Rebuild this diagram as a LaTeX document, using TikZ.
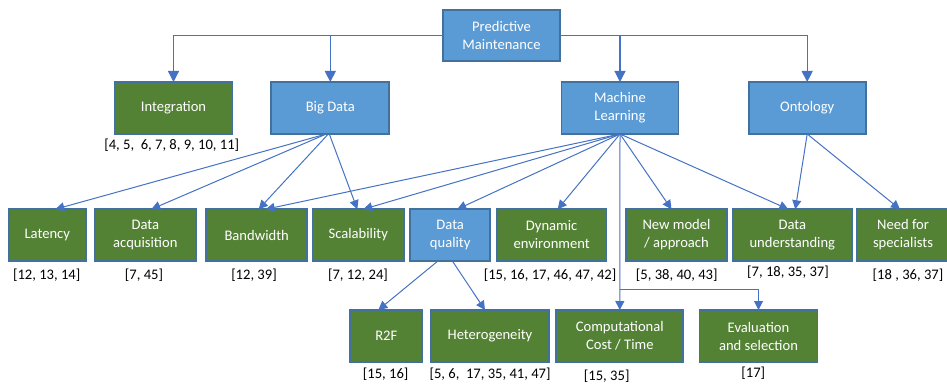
\documentclass[tikz,border=0pt]{standalone}
\usepackage{fontspec}
\setmainfont{Carlito}
\usetikzlibrary{arrows.meta}
\definecolor{boxblue}{HTML}{5B9BD5}
\definecolor{boxgreen}{HTML}{548235}
\definecolor{edgeblue}{HTML}{41719C}
\definecolor{linkblue}{HTML}{4472C4}
\begin{document}
\begin{tikzpicture}[x=1pt,y=-1pt,
  box/.style={draw=edgeblue,line width=1.8pt,text=white,align=center,inner sep=1pt,outer sep=0pt,
    font=\fontsize{14.6}{18}\selectfont},
  topic/.style={box,fill=boxblue},
  issue/.style={box,fill=boxgreen},
  refs/.style={font=\fontsize{14.6}{18}\selectfont,text=black,inner sep=0pt},
  link/.style={draw=linkblue,line width=1pt,-{Triangle[length=9pt,width=9pt]}},
  toplink/.style={draw=linkblue,line width=1.2pt,-{Triangle[length=11pt,width=11pt]}}]
\useasboundingbox (0,0) rectangle (947,385);
\clip (0,0) rectangle (947,385);

% root and first level
\node[topic,minimum width=117pt,minimum height=51pt] (pm) at (501.5,35.7) {Predictive\\Maintenance};
\node[issue,minimum width=118pt,minimum height=52pt] (integ) at (173.5,108) {Integration};
\node[topic,minimum width=118pt,minimum height=52pt] (bd) at (330.3,108) {Big Data};
\node[topic,minimum width=117pt,minimum height=52pt] (ml) at (620,108) {Machine\\Learning};
\node[topic,minimum width=117pt,minimum height=52pt] (onto) at (807.2,108) {Ontology};

% second level
\node[issue,minimum width=77pt,minimum height=51.5pt] (lat) at (47.3,235) {Latency};
\node[issue,minimum width=101pt,minimum height=51.5pt] (acq) at (145.3,235) {Data\\acquisition};
\node[issue,minimum width=101pt,minimum height=51.5pt] (bw) at (256.7,235) {Bandwidth};
\node[issue,minimum width=91.5pt,minimum height=51.5pt] (scal) at (358.3,235) {Scalability};
\node[topic,minimum width=80pt,minimum height=51.5pt] (dq) at (450.2,235) {Data\\quality};
\node[issue,minimum width=109.5pt,minimum height=51.5pt] (dyn) at (551.7,235) {Dynamic\\environment};
\node[issue,minimum width=100.5pt,minimum height=51.5pt] (nm) at (676.5,235) {New model\\/ approach};
\node[issue,minimum width=119pt,minimum height=51.5pt] (du) at (792.3,235) {Data\\understanding};
\node[issue,minimum width=93pt,minimum height=51.5pt] (ns) at (903,235) {Need for\\specialists};

% third level
\node[issue,minimum width=72pt,minimum height=52pt] (r2f) at (386.3,336) {R2F};
\node[issue,minimum width=118pt,minimum height=52pt] (het) at (490,336) {Heterogeneity};
\node[issue,minimum width=127pt,minimum height=52pt] (cc) at (619.8,336) {Computational\\Cost / Time};
\node[issue,minimum width=118pt,minimum height=52pt] (ev) at (758.5,336) {Evaluation\\and selection};

% reference lists
\node[refs] (rinteg) at (171.7,145) {[4, 5,\ \ 6, 7, 8, 9, 10, 11]};
\node[refs] (rlat) at (46.7,275) {[12, 13, 14]};
\node[refs] (racq) at (144,275) {[7, 45]};
\node[refs] (rbw) at (254,275) {[12, 39]};
\node[refs] (rscal) at (358,275) {[7, 12, 24]};
\node[refs] (rdyn) at (550,275) {[15, 16, 17, 46, 47, 42]};
\node[refs] (rnm) at (676.7,275) {[5, 38, 40, 43]};
\node[refs] (rdu) at (788,272.7) {[7, 18, 35, 37]};
\node[refs] (rns) at (908,275) {[18 , 36, 37]};
\node[refs] (rr2f) at (385.7,374) {[15, 16]};
\node[refs] (rhet) at (490,374) {[5, 6,\ \ 17, 35, 41, 47]};
\node[refs] (rcc) at (606.7,376.7) {[15, 35]};
\node[refs] (rev) at (753.3,373.3) {[17]};

% root branches
\draw[toplink] (pm.west) -| (integ.north);
\draw[toplink] (pm.west -| bd.north) -- (bd.north);
\draw[toplink] (pm.east) -| (onto.north);
\draw[toplink] (pm.east -| ml.north) -- (ml.north);

% Big Data
\draw[link] ([xshift=-4pt]bd.south) -- ([xshift=8pt]lat.north);
\draw[link] ([xshift=-4pt]bd.south) -- ([xshift=6pt]acq.north);
\draw[link] ([xshift=-2pt]bd.south) -- ([xshift=2pt]bw.north);
\draw[link] ([xshift=-1pt]bd.south) -- ([xshift=-1pt]scal.north);

% Machine Learning
\draw[link] (ml.south) -- ([xshift=9pt]bw.north);
\draw[link] (ml.south) -- ([xshift=5pt]scal.north);
\draw[link] (ml.south) -- ([xshift=7pt]dq.north);
\draw[link] (ml.south) -- ([xshift=6pt]dyn.north);
\draw[link] (ml.south) -- ([xshift=-5pt]nm.north);
\draw[link] (ml.south) -- ([xshift=-4pt]du.north);
\draw[link] (ml.south) -- (cc.north);
\coordinate (evk) at (620,289.3);
\draw[link] (evk) -| (ev.north);

% Ontology
\draw[link] (onto.south) -- ([xshift=3pt]du.north);
\draw[link] (onto.south) -- ([xshift=-3pt]ns.north);

% Data quality
\draw[link] ([xshift=-12pt]dq.south) -- ([xshift=-8pt]r2f.north);
\draw[link] ([xshift=2pt]dq.south) -- ([xshift=-5pt]het.north);
\end{tikzpicture}
\end{document}
